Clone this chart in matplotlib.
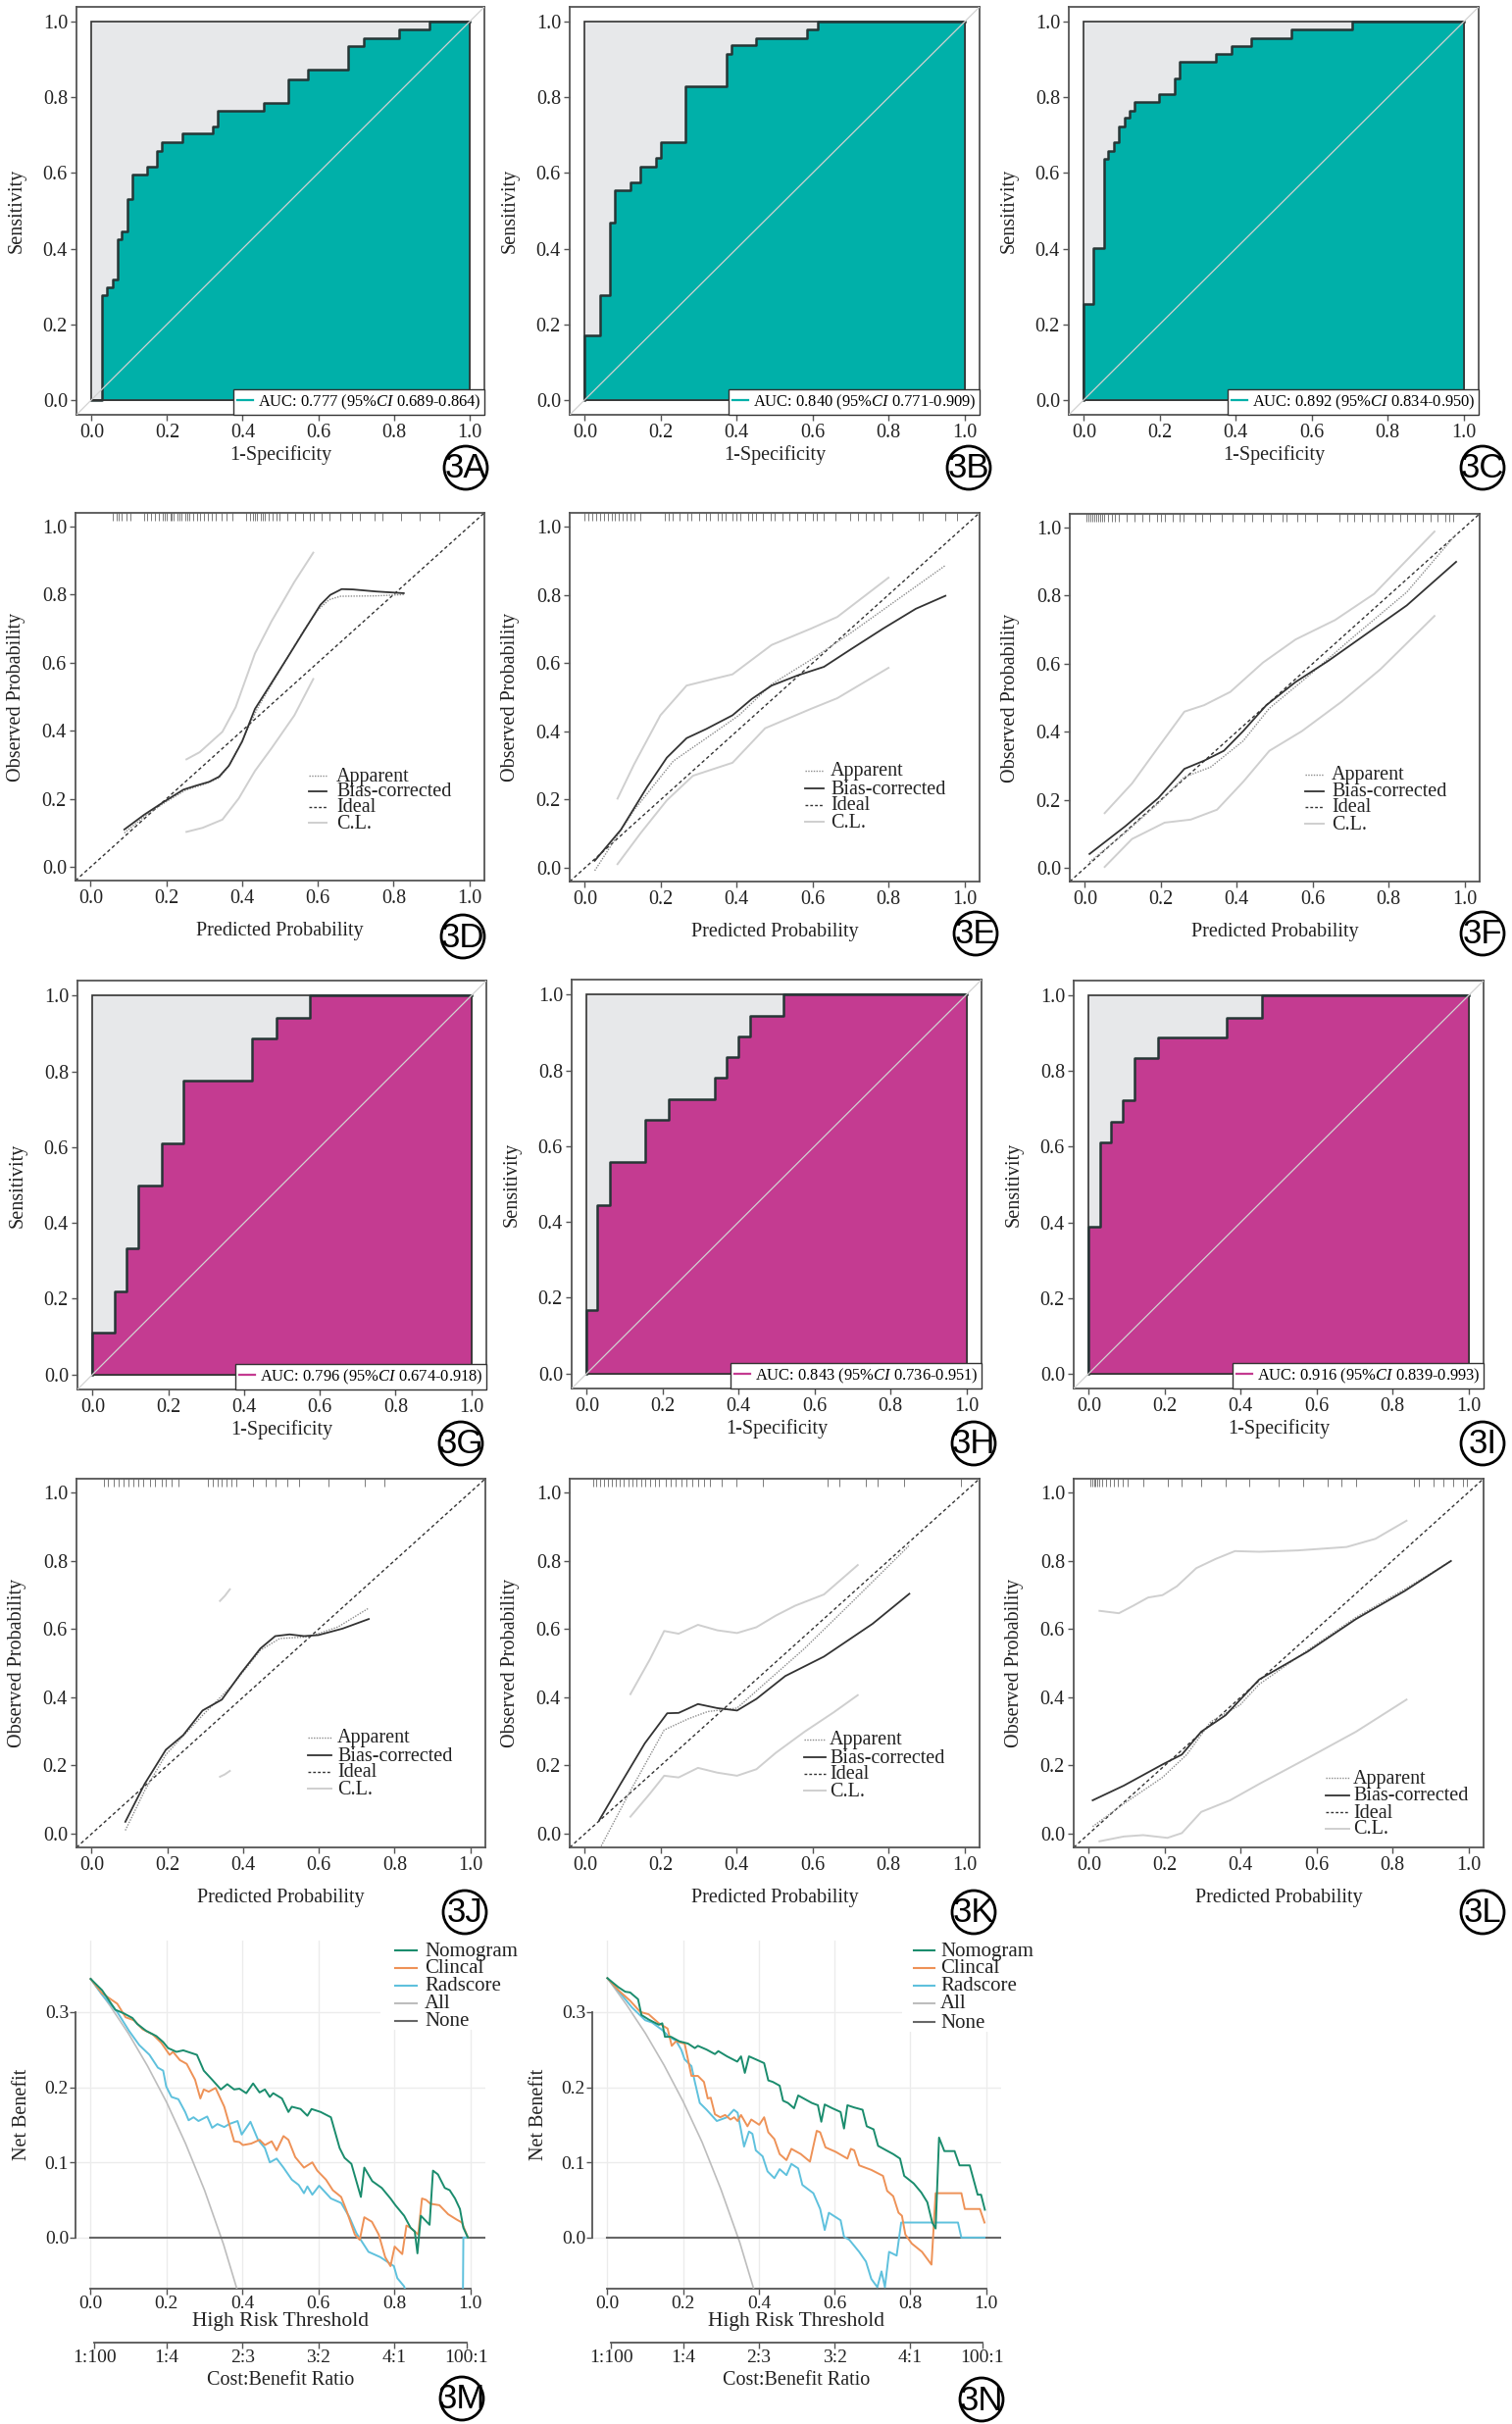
import matplotlib
matplotlib.use("Agg")
import matplotlib.pyplot as plt
from matplotlib.lines import Line2D
from matplotlib.patches import Rectangle, Ellipse

W, H = 1542, 2472
plt.rcParams['font.family'] = ['Liberation Serif', 'DejaVu Serif']
plt.rcParams['mathtext.fontset'] = 'custom'
plt.rcParams['mathtext.rm'] = 'Liberation Serif'
plt.rcParams['mathtext.it'] = 'Liberation Serif:italic'

# ---------------- ROC data (step corners) ----------------
fpr_A = [0.0, 0.028, 0.041, 0.055, 0.068, 0.080, 0.094, 0.107, 0.147, 0.174, 0.186, 0.240, 0.321, 0.333, 0.455, 0.521, 0.573, 0.680, 0.721, 0.814, 0.894, 1.0]
tpr_A = [0.0, 0.276, 0.298, 0.317, 0.424, 0.446, 0.532, 0.596, 0.616, 0.659, 0.681, 0.704, 0.724, 0.765, 0.786, 0.849, 0.874, 0.936, 0.957, 0.979, 1.0, 1.0]
fpr_B = [0.0, 0.0, 0.040, 0.066, 0.079, 0.119, 0.147, 0.187, 0.200, 0.266, 0.373, 0.387, 0.452, 0.585, 0.613, 1.0]
tpr_B = [0.0, 0.170, 0.276, 0.469, 0.554, 0.575, 0.618, 0.639, 0.683, 0.830, 0.916, 0.939, 0.958, 0.979, 1.0, 1.0]
fpr_C = [0.0, 0.0, 0.024, 0.052, 0.064, 0.078, 0.093, 0.107, 0.119, 0.133, 0.198, 0.240, 0.253, 0.348, 0.388, 0.441, 0.547, 0.707, 1.0]
tpr_C = [0.0, 0.254, 0.402, 0.638, 0.659, 0.681, 0.724, 0.746, 0.765, 0.787, 0.808, 0.851, 0.895, 0.916, 0.936, 0.958, 0.979, 1.0, 1.0]
fpr_G = [0.0, 0.0, 0.059, 0.089, 0.120, 0.182, 0.240, 0.422, 0.486, 0.573, 1.0]
tpr_G = [0.0, 0.110, 0.220, 0.332, 0.499, 0.609, 0.777, 0.888, 0.942, 1.0, 1.0]
fpr_H = [0.0, 0.0, 0.028, 0.062, 0.154, 0.215, 0.338, 0.369, 0.400, 0.431, 0.518, 1.0]
tpr_H = [0.0, 0.166, 0.445, 0.557, 0.669, 0.723, 0.780, 0.836, 0.890, 0.944, 1.0, 1.0]
fpr_I = [0.0, 0.0, 0.031, 0.059, 0.090, 0.120, 0.182, 0.363, 0.455, 1.0]
tpr_I = [0.0, 0.388, 0.611, 0.667, 0.722, 0.834, 0.889, 0.942, 1.0, 1.0]

auc_A = ("0.777", "0.689-0.864")
auc_B = ("0.840", "0.771-0.909")
auc_C = ("0.892", "0.834-0.950")
auc_G = ("0.796", "0.674-0.918")
auc_H = ("0.843", "0.736-0.951")
auc_I = ("0.916", "0.839-0.993")

# ---------------- Calibration data ----------------
bc_D_x = [0.089, 0.141, 0.193, 0.245, 0.279, 0.313, 0.339, 0.365, 0.400, 0.434, 0.478, 0.521, 0.564, 0.607, 0.633, 0.663, 0.693, 0.754, 0.827]
bc_D_y = [0.110, 0.153, 0.191, 0.227, 0.239, 0.250, 0.265, 0.297, 0.368, 0.464, 0.541, 0.617, 0.694, 0.770, 0.799, 0.816, 0.815, 0.809, 0.804]
ap_D_x = [0.089, 0.15, 0.2, 0.25, 0.3, 0.34, 0.37, 0.40, 0.44, 0.48, 0.52, 0.56, 0.60, 0.63, 0.66, 0.75, 0.827]
ap_D_y = [0.100, 0.155, 0.192, 0.225, 0.243, 0.262, 0.305, 0.37, 0.465, 0.54, 0.615, 0.69, 0.755, 0.785, 0.795, 0.796, 0.800]
up_D_x = [0.253, 0.288, 0.348, 0.383, 0.434, 0.478, 0.538, 0.588]
up_D_y = [0.316, 0.337, 0.397, 0.469, 0.627, 0.722, 0.837, 0.923]
lo_D_x = [0.253, 0.296, 0.348, 0.391, 0.434, 0.478, 0.538, 0.588]
lo_D_y = [0.103, 0.115, 0.139, 0.201, 0.282, 0.349, 0.445, 0.552]
rug_D = [0.059, 0.068, 0.075, 0.083, 0.095, 0.105, 0.14, 0.15, 0.16, 0.17, 0.18, 0.19, 0.195, 0.20, 0.21, 0.215, 0.22, 0.23, 0.235, 0.24, 0.25, 0.255, 0.26, 0.27, 0.28, 0.29, 0.30, 0.31, 0.32, 0.33, 0.345, 0.36, 0.375, 0.41, 0.42, 0.43, 0.435, 0.44, 0.45, 0.455, 0.46, 0.47, 0.48, 0.49, 0.50, 0.52, 0.54, 0.56, 0.58, 0.59, 0.61, 0.63, 0.66, 0.69, 0.71, 0.75, 0.77, 0.82, 0.87, 0.92]

bc_E_x = [0.026, 0.095, 0.164, 0.216, 0.268, 0.320, 0.389, 0.440, 0.492, 0.561, 0.630, 0.699, 0.786, 0.872, 0.950]
bc_E_y = [0.021, 0.112, 0.237, 0.323, 0.380, 0.407, 0.447, 0.495, 0.534, 0.564, 0.589, 0.639, 0.701, 0.759, 0.797]
ap_E_x = [0.026, 0.130, 0.233, 0.320, 0.406, 0.492, 0.596, 0.699, 0.820, 0.950]
ap_E_y = [-0.008, 0.170, 0.313, 0.380, 0.447, 0.538, 0.610, 0.687, 0.783, 0.886]
up_E_x = [0.086, 0.130, 0.199, 0.268, 0.337, 0.389, 0.492, 0.596, 0.665, 0.800]
up_E_y = [0.203, 0.304, 0.447, 0.534, 0.553, 0.567, 0.653, 0.701, 0.735, 0.850]
lo_E_x = [0.086, 0.147, 0.216, 0.285, 0.389, 0.475, 0.596, 0.665, 0.800]
lo_E_y = [0.011, 0.102, 0.198, 0.270, 0.308, 0.409, 0.466, 0.497, 0.586]
rug_E = [0.0, 0.01, 0.02, 0.03, 0.04, 0.05, 0.06, 0.07, 0.08, 0.09, 0.10, 0.11, 0.12, 0.13, 0.145, 0.21, 0.22, 0.23, 0.25, 0.27, 0.28, 0.30, 0.32, 0.33, 0.35, 0.36, 0.37, 0.39, 0.40, 0.41, 0.43, 0.44, 0.45, 0.47, 0.49, 0.50, 0.52, 0.54, 0.56, 0.58, 0.60, 0.61, 0.63, 0.66, 0.70, 0.72, 0.74, 0.76, 0.78, 0.81, 0.88, 0.89, 0.95, 0.98]

bc_F_x = [0.012, 0.107, 0.193, 0.262, 0.314, 0.366, 0.417, 0.478, 0.555, 0.641, 0.745, 0.848, 0.978]
bc_F_y = [0.041, 0.123, 0.205, 0.291, 0.315, 0.344, 0.402, 0.478, 0.546, 0.608, 0.690, 0.771, 0.899]
ap_F_x = [0.012, 0.107, 0.193, 0.262, 0.331, 0.417, 0.486, 0.590, 0.710, 0.848, 0.978]
ap_F_y = [0.017, 0.104, 0.190, 0.267, 0.296, 0.373, 0.469, 0.565, 0.681, 0.810, 0.980]
up_F_x = [0.052, 0.124, 0.193, 0.262, 0.314, 0.383, 0.469, 0.555, 0.659, 0.762, 0.921]
up_F_y = [0.161, 0.248, 0.354, 0.459, 0.478, 0.517, 0.603, 0.671, 0.728, 0.805, 0.988]
lo_F_x = [0.052, 0.124, 0.210, 0.279, 0.348, 0.417, 0.486, 0.572, 0.676, 0.779, 0.921]
lo_F_y = [0.003, 0.085, 0.133, 0.142, 0.171, 0.253, 0.344, 0.402, 0.488, 0.584, 0.740]
rug_F = [0.005, 0.01, 0.015, 0.02, 0.025, 0.03, 0.035, 0.04, 0.045, 0.05, 0.06, 0.07, 0.08, 0.09, 0.11, 0.13, 0.15, 0.17, 0.19, 0.20, 0.21, 0.23, 0.25, 0.26, 0.29, 0.31, 0.33, 0.36, 0.39, 0.42, 0.44, 0.47, 0.49, 0.52, 0.53, 0.56, 0.58, 0.61, 0.67, 0.69, 0.71, 0.73, 0.75, 0.77, 0.79, 0.81, 0.83, 0.85, 0.87, 0.89, 0.91, 0.93, 0.95, 0.96, 0.97]

bc_J_x = [0.089, 0.140, 0.196, 0.242, 0.293, 0.344, 0.395, 0.446, 0.485, 0.523, 0.561, 0.599, 0.663, 0.732]
bc_J_y = [0.035, 0.146, 0.246, 0.289, 0.361, 0.393, 0.471, 0.543, 0.579, 0.584, 0.579, 0.582, 0.601, 0.629]
ap_J_x = [0.089, 0.140, 0.196, 0.293, 0.370, 0.446, 0.497, 0.574, 0.651, 0.732]
ap_J_y = [0.010, 0.126, 0.232, 0.347, 0.433, 0.538, 0.572, 0.577, 0.606, 0.661]
up_J_x = [0.339, 0.352, 0.365]
up_J_y = [0.682, 0.697, 0.716]
lo_J_x = [0.339, 0.352, 0.365]
lo_J_y = [0.167, 0.174, 0.184]
rug_J = [0.033, 0.043, 0.059, 0.071, 0.084, 0.097, 0.110, 0.122, 0.135, 0.153, 0.166, 0.186, 0.196, 0.212, 0.230, 0.306, 0.319, 0.332, 0.344, 0.357, 0.370, 0.383, 0.426, 0.459, 0.485, 0.518, 0.548, 0.625, 0.722, 0.773]

bc_K_x = [0.038, 0.094, 0.158, 0.217, 0.247, 0.298, 0.349, 0.401, 0.452, 0.528, 0.630, 0.758, 0.855]
bc_K_y = [0.040, 0.146, 0.265, 0.353, 0.354, 0.380, 0.368, 0.361, 0.395, 0.462, 0.519, 0.615, 0.703]
ap_K_x = [0.043, 0.120, 0.209, 0.273, 0.324, 0.401, 0.477, 0.579, 0.707, 0.855]
ap_K_y = [-0.036, 0.126, 0.304, 0.337, 0.358, 0.368, 0.443, 0.543, 0.682, 0.845]
up_K_x = [0.120, 0.171, 0.209, 0.247, 0.298, 0.349, 0.401, 0.452, 0.503, 0.554, 0.630, 0.719]
up_K_y = [0.409, 0.510, 0.594, 0.586, 0.612, 0.596, 0.588, 0.605, 0.639, 0.668, 0.701, 0.787]
lo_K_x = [0.120, 0.171, 0.209, 0.247, 0.298, 0.349, 0.401, 0.452, 0.503, 0.579, 0.656, 0.719]
lo_K_y = [0.050, 0.117, 0.170, 0.165, 0.193, 0.179, 0.170, 0.189, 0.237, 0.299, 0.356, 0.406]
rug_K = [0.023, 0.031, 0.041, 0.051, 0.061, 0.071, 0.082, 0.092, 0.102, 0.115, 0.125, 0.135, 0.148, 0.158, 0.171, 0.184, 0.196, 0.212, 0.227, 0.240, 0.255, 0.268, 0.283, 0.298, 0.314, 0.33, 0.36, 0.40, 0.47, 0.64, 0.67, 0.74, 0.77, 0.84, 0.99]

bc_L_x = [0.010, 0.092, 0.194, 0.245, 0.296, 0.360, 0.449, 0.577, 0.704, 0.832, 0.954]
bc_L_y = [0.098, 0.141, 0.203, 0.232, 0.299, 0.347, 0.452, 0.534, 0.629, 0.711, 0.799]
ap_L_x = [0.010, 0.092, 0.194, 0.258, 0.321, 0.398, 0.449, 0.577, 0.704, 0.832, 0.954]
ap_L_y = [0.021, 0.088, 0.165, 0.232, 0.328, 0.377, 0.438, 0.538, 0.634, 0.716, 0.799]
up_L_x = [0.028, 0.079, 0.117, 0.156, 0.194, 0.232, 0.283, 0.334, 0.385, 0.449, 0.551, 0.679, 0.755, 0.837]
up_L_y = [0.653, 0.646, 0.668, 0.692, 0.699, 0.725, 0.778, 0.805, 0.828, 0.826, 0.830, 0.840, 0.864, 0.917]
lo_L_x = [0.028, 0.092, 0.143, 0.207, 0.245, 0.296, 0.372, 0.449, 0.577, 0.704, 0.837]
lo_L_y = [-0.022, -0.008, -0.004, -0.012, 0.002, 0.064, 0.098, 0.146, 0.222, 0.299, 0.393]
rug_L = [0.003, 0.008, 0.013, 0.018, 0.023, 0.028, 0.036, 0.046, 0.056, 0.066, 0.076, 0.089, 0.102, 0.143, 0.207, 0.245, 0.296, 0.360, 0.423, 0.500, 0.564, 0.628, 0.666, 0.704, 0.857, 0.870, 0.908, 0.934, 0.959, 0.985, 0.997]

cal_legend_labels = ["Apparent", "Bias-corrected", "Ideal", "C.L."]

# ---------------- Decision curve data ----------------
dca_labels = ["Nomogram", "Clincal", "Radscore", "All", "None"]
nom_M_x = [0, 0.030, 0.065, 0.088, 0.110, 0.123, 0.146, 0.173, 0.191, 0.204, 0.226, 0.244, 0.262, 0.280, 0.298, 0.320, 0.343, 0.360, 0.378, 0.392, 0.410, 0.428, 0.445, 0.459, 0.472, 0.481, 0.504, 0.521, 0.530, 0.553, 0.571, 0.582, 0.606, 0.633, 0.656, 0.669, 0.687, 0.712, 0.721, 0.742, 0.767, 0.790, 0.803, 0.826, 0.843, 0.854, 0.861, 0.870, 0.893, 0.902, 0.915, 0.933, 0.946, 0.960, 0.973, 0.982, 0.994]
nom_M_y = [0.344, 0.329, 0.303, 0.298, 0.292, 0.284, 0.275, 0.268, 0.260, 0.252, 0.247, 0.249, 0.246, 0.243, 0.222, 0.210, 0.197, 0.204, 0.197, 0.198, 0.192, 0.205, 0.193, 0.197, 0.187, 0.192, 0.185, 0.167, 0.174, 0.171, 0.162, 0.171, 0.167, 0.160, 0.119, 0.106, 0.098, 0.054, 0.093, 0.075, 0.066, 0.052, 0.043, 0.029, 0.013, 0.008, -0.021, 0.029, 0.017, 0.089, 0.084, 0.066, 0.063, 0.052, 0.038, 0.013, 0.0]
clin_M_x = [0, 0.030, 0.070, 0.092, 0.114, 0.137, 0.164, 0.186, 0.208, 0.217, 0.235, 0.253, 0.275, 0.289, 0.298, 0.311, 0.329, 0.352, 0.378, 0.392, 0.401, 0.423, 0.445, 0.459, 0.477, 0.490, 0.508, 0.521, 0.539, 0.562, 0.584, 0.597, 0.620, 0.638, 0.660, 0.674, 0.696, 0.709, 0.721, 0.741, 0.759, 0.776, 0.790, 0.801, 0.821, 0.832, 0.843, 0.863, 0.873, 0.884, 0.895, 0.919, 0.942, 0.964, 0.978, 0.994]
clin_M_y = [0.344, 0.325, 0.311, 0.293, 0.289, 0.277, 0.270, 0.259, 0.243, 0.247, 0.236, 0.231, 0.210, 0.185, 0.197, 0.194, 0.199, 0.174, 0.128, 0.127, 0.123, 0.125, 0.130, 0.123, 0.128, 0.116, 0.135, 0.130, 0.107, 0.093, 0.100, 0.089, 0.077, 0.063, 0.054, 0.036, 0.004, -0.003, 0.027, 0.021, 0.004, -0.026, -0.038, -0.012, -0.022, 0.016, 0.013, 0.004, 0.052, 0.050, 0.045, 0.043, 0.031, 0.024, 0.020, 0.0]
rad_M_x = [0, 0.030, 0.070, 0.101, 0.128, 0.155, 0.177, 0.191, 0.199, 0.213, 0.231, 0.249, 0.258, 0.271, 0.284, 0.307, 0.320, 0.334, 0.352, 0.365, 0.387, 0.398, 0.421, 0.441, 0.459, 0.472, 0.490, 0.508, 0.530, 0.548, 0.562, 0.571, 0.584, 0.602, 0.633, 0.660, 0.682, 0.700, 0.732, 0.763, 0.799, 0.808, 0.826, 0.860, 0.979, 0.982, 0.994]
rad_M_y = [0.344, 0.323, 0.300, 0.275, 0.256, 0.243, 0.226, 0.222, 0.201, 0.187, 0.184, 0.167, 0.156, 0.160, 0.155, 0.161, 0.146, 0.151, 0.147, 0.151, 0.155, 0.137, 0.154, 0.130, 0.119, 0.100, 0.105, 0.093, 0.077, 0.070, 0.059, 0.068, 0.057, 0.069, 0.052, 0.046, 0.027, 0.006, -0.019, -0.026, -0.038, -0.054, -0.065, -0.12, -0.20, 0.0, 0.0]
all_M_x = [0, 0.05, 0.10, 0.15, 0.20, 0.25, 0.30, 0.35, 0.40]
all_M_y = [0.344, 0.309, 0.271, 0.228, 0.180, 0.125, 0.063, -0.009, -0.093]

nom_N_x = [0, 0.029, 0.047, 0.060, 0.081, 0.090, 0.109, 0.136, 0.145, 0.152, 0.168, 0.190, 0.213, 0.231, 0.239, 0.262, 0.284, 0.293, 0.316, 0.343, 0.353, 0.363, 0.374, 0.392, 0.414, 0.425, 0.437, 0.455, 0.464, 0.477, 0.493, 0.504, 0.522, 0.540, 0.556, 0.565, 0.574, 0.594, 0.616, 0.625, 0.634, 0.652, 0.674, 0.685, 0.703, 0.715, 0.733, 0.755, 0.773, 0.784, 0.809, 0.829, 0.845, 0.858, 0.867, 0.876, 0.890, 0.917, 0.930, 0.957, 0.978, 0.987, 0.997]
nom_N_y = [0.345, 0.333, 0.327, 0.326, 0.317, 0.296, 0.290, 0.283, 0.285, 0.267, 0.267, 0.261, 0.258, 0.252, 0.255, 0.250, 0.244, 0.248, 0.241, 0.234, 0.241, 0.219, 0.241, 0.237, 0.232, 0.209, 0.207, 0.202, 0.182, 0.179, 0.172, 0.189, 0.184, 0.179, 0.176, 0.154, 0.177, 0.172, 0.167, 0.145, 0.176, 0.173, 0.170, 0.148, 0.144, 0.122, 0.117, 0.111, 0.105, 0.082, 0.072, 0.060, 0.047, 0.020, 0.012, 0.133, 0.115, 0.115, 0.096, 0.096, 0.057, 0.057, 0.037]
clin_N_x = [0, 0.029, 0.060, 0.087, 0.109, 0.136, 0.159, 0.170, 0.181, 0.204, 0.222, 0.239, 0.255, 0.265, 0.273, 0.284, 0.298, 0.311, 0.325, 0.335, 0.344, 0.353, 0.370, 0.380, 0.401, 0.414, 0.425, 0.441, 0.455, 0.473, 0.486, 0.511, 0.535, 0.553, 0.562, 0.576, 0.603, 0.634, 0.643, 0.652, 0.665, 0.697, 0.728, 0.739, 0.755, 0.769, 0.778, 0.787, 0.804, 0.831, 0.856, 0.867, 0.935, 0.944, 0.984, 0.996]
clin_N_y = [0.345, 0.329, 0.315, 0.300, 0.297, 0.285, 0.278, 0.255, 0.261, 0.258, 0.215, 0.215, 0.207, 0.185, 0.186, 0.164, 0.160, 0.163, 0.157, 0.160, 0.155, 0.163, 0.148, 0.157, 0.150, 0.160, 0.140, 0.131, 0.111, 0.103, 0.118, 0.111, 0.101, 0.142, 0.140, 0.120, 0.114, 0.105, 0.118, 0.116, 0.096, 0.090, 0.082, 0.062, 0.055, 0.033, 0.029, 0.004, -0.008, -0.019, -0.036, 0.059, 0.059, 0.038, 0.038, 0.020]
rad_N_x = [0, 0.029, 0.065, 0.100, 0.118, 0.145, 0.163, 0.181, 0.195, 0.204, 0.222, 0.231, 0.244, 0.262, 0.289, 0.316, 0.334, 0.344, 0.352, 0.361, 0.374, 0.383, 0.392, 0.410, 0.423, 0.441, 0.455, 0.473, 0.486, 0.504, 0.515, 0.544, 0.562, 0.574, 0.585, 0.616, 0.625, 0.639, 0.665, 0.683, 0.697, 0.713, 0.724, 0.733, 0.744, 0.764, 0.776, 0.926, 0.935, 0.996]
rad_N_y = [0.345, 0.328, 0.306, 0.289, 0.286, 0.276, 0.267, 0.262, 0.250, 0.237, 0.228, 0.207, 0.179, 0.170, 0.155, 0.160, 0.170, 0.166, 0.145, 0.121, 0.141, 0.138, 0.116, 0.108, 0.088, 0.079, 0.091, 0.083, 0.098, 0.092, 0.070, 0.059, 0.038, 0.010, 0.033, 0.023, 0.001, -0.003, -0.019, -0.032, -0.055, -0.066, -0.045, -0.066, -0.019, -0.024, 0.020, 0.020, 0.0, 0.0]
all_N_x = [0, 0.05, 0.10, 0.15, 0.20, 0.25, 0.30, 0.35, 0.40]
all_N_y = [0.345, 0.310, 0.272, 0.229, 0.181, 0.127, 0.064, -0.007, -0.091]

cb_ticks = [0.01, 0.2, 0.4, 0.6, 0.8, 0.99]
cb_labels = ["1:100", "1:4", "2:3", "3:2", "4:1", "100:1"]
prob_ticks = [0.0, 0.2, 0.4, 0.6, 0.8, 1.0]
nb_ticks = [0.0, 0.1, 0.2, 0.3]

# ---------------- styling ----------------
TEAL = '#00b0a9'
MAGENTA = '#c43b91'
GRAYFILL = '#e7e8ea'
FRAME = '#555555'
TXT = '#222222'
C_NOM, C_CLIN, C_RAD, C_ALL, C_NONE = '#1a8c6d', '#ee9257', '#5fc1dd', '#bdbdbd', '#676767'

fig = plt.figure(figsize=(W / 100, H / 100), dpi=100)


def px_ax(x0, y0, x1, y1):
    return fig.add_axes([x0 / W, 1 - y1 / H, (x1 - x0) / W, (y1 - y0) / H])


def fxy(x, y):
    return x / W, 1 - y / H


def box_style(ax):
    ax.set_xlim(-0.04, 1.04)
    ax.set_ylim(-0.04, 1.04)
    ax.set_xticks(prob_ticks)
    ax.set_yticks(prob_ticks)
    ax.set_xticklabels([f"{t:.1f}" for t in prob_ticks])
    ax.set_yticklabels([f"{t:.1f}" for t in prob_ticks])
    for s in ax.spines.values():
        s.set_color(FRAME)
        s.set_linewidth(1.3)
    ax.tick_params(direction='out', length=4.5, width=1, colors=FRAME,
                   labelcolor=TXT, labelsize=14.5, pad=2)


def draw_roc(box, fpr, tpr, color, auc):
    ax = px_ax(*box)
    box_style(ax)
    ax.add_patch(Rectangle((0, 0), 1, 1, facecolor=GRAYFILL, edgecolor='#333333', lw=1.2, zorder=1))
    ax.fill_between(fpr, tpr, 0, step='post', color=color, lw=0, zorder=2)
    ax.plot(fpr, tpr, drawstyle='steps-post', color='#263636', lw=1.8, zorder=4)
    ax.plot([1, 1], [0, 1], color='#333333', lw=1.2, zorder=4)
    ax.plot([0, 1], [0, 0], color='#333333', lw=1.2, zorder=4)
    ax.axline((0, 0), slope=1, color='#d2d2d2', lw=0.9, zorder=5)
    ax.set_xlabel("1-Specificity", fontsize=14.5, color=TXT, labelpad=2)
    ax.set_ylabel("Sensitivity", fontsize=14.5, color=TXT, labelpad=12)
    lab = "AUC: " + auc[0] + " (95%$\\it{CI}$ " + auc[1] + ")"
    leg = ax.legend([Line2D([], [], color=color, lw=1.6)], [lab], loc='lower right',
                    borderaxespad=0, handlelength=1.0, handletextpad=0.3, borderpad=0.2,
                    fancybox=False, edgecolor='#333333', framealpha=1, fontsize=11.9)
    leg.get_frame().set_linewidth(1.0)
    leg.set_zorder(6)
    return ax


def cal_legend(hx0, hx1, tx, ys):
    styles = [dict(color='#8c8c8c', lw=1.0, ls=(0, (1, 1))),
              dict(color='#333333', lw=1.3, ls='-'),
              dict(color='#333333', lw=1.0, ls=(0, (2, 1.5))),
              dict(color='#cfcfcf', lw=1.4, ls='-')]
    for lab, st, y in zip(cal_legend_labels, styles, ys):
        fig.add_artist(Line2D([hx0 / W, hx1 / W], [1 - y / H, 1 - y / H],
                              transform=fig.transFigure, **st))
        fig.text(tx / W, 1 - (y + 1) / H, lab, fontsize=14.5, color=TXT, va='center', ha='left')


def draw_cal(box, ap_x, ap_y, bc_x, bc_y, up_x, up_y, lo_x, lo_y, rug, leg):
    ax = px_ax(*box)
    box_style(ax)
    ax.axline((0, 0), slope=1, color='#333333', lw=1.0, ls=(0, (2.5, 2)), zorder=2)
    ax.plot(up_x, up_y, color='#cfcfcf', lw=1.4, zorder=3)
    ax.plot(lo_x, lo_y, color='#cfcfcf', lw=1.4, zorder=3)
    ax.plot(ap_x, ap_y, color='#8c8c8c', lw=1.0, ls=(0, (1, 1)), zorder=4)
    ax.plot(bc_x, bc_y, color='#333333', lw=1.3, zorder=5)
    ax.vlines(rug, 0.978, 1.0, transform=ax.get_xaxis_transform(), color='#7a7a7a', lw=0.7)
    ax.set_xlabel("Predicted Probability", fontsize=14.5, color=TXT, labelpad=10)
    ax.set_ylabel("Observed Probability", fontsize=14.5, color=TXT, labelpad=12)
    cal_legend(*leg)
    return ax


def draw_dca(box, series, all_x, all_y, cb_y, leg):
    ax = px_ax(*box)
    ax.set_xlim(-0.04, 1.04)
    ax.set_ylim(-0.068, 0.395)
    ax.set_xticks(prob_ticks)
    ax.set_xticklabels([f"{t:.1f}" for t in prob_ticks])
    ax.set_yticks(nb_ticks)
    ax.set_yticklabels([f"{t:.1f}" for t in nb_ticks])
    ax.grid(True, color='#ececec', lw=1.0)
    ax.set_axisbelow(True)
    for s in ['top', 'right']:
        ax.spines[s].set_visible(False)
    ax.spines['left'].set_bounds(0, 0.3)
    ax.spines['bottom'].set_bounds(0, 1)
    for s in ['left', 'bottom']:
        ax.spines[s].set_color(FRAME)
        ax.spines[s].set_linewidth(1.3)
    ax.tick_params(direction='out', length=4, width=1, colors=FRAME, labelcolor=TXT,
                   labelsize=14, pad=1)
    ax.plot(all_x, all_y, color=C_ALL, lw=1.2, zorder=3)
    ax.axhline(0, xmin=0.04 / 1.08, xmax=1.0, color=C_NONE, lw=1.5, zorder=3)
    for (sx, sy), c in zip(series, [C_RAD, C_CLIN, C_NOM]):
        ax.plot(sx, sy, color=c, lw=1.4, zorder=4)
    ax.set_xlabel("High Risk Threshold", fontsize=15.5, color=TXT, labelpad=0)
    ax.set_ylabel("Net Benefit", fontsize=14.5, color=TXT, labelpad=10)

    # cost:benefit axis
    cax = px_ax(box[0], cb_y - 2, box[2], cb_y)
    cax.set_xlim(-0.04, 1.04)
    cax.set_yticks([])
    cax.patch.set_alpha(0)
    for s in ['top', 'left', 'right']:
        cax.spines[s].set_visible(False)
    cax.spines['bottom'].set_bounds(cb_ticks[0], cb_ticks[-1])
    cax.spines['bottom'].set_color(FRAME)
    cax.spines['bottom'].set_linewidth(1.3)
    cax.set_xticks(cb_ticks)
    cax.set_xticklabels(cb_labels)
    cax.tick_params(direction='out', length=4, width=1, colors=FRAME, labelcolor=TXT,
                    labelsize=14, pad=1)
    cax.set_xlabel("Cost:Benefit Ratio", fontsize=14.5, color=TXT, labelpad=4)

    # legend (white box + entries)
    bx0, by0, bx1, by1, hx0, hx1, tx, ys = leg
    fig.add_artist(Rectangle(fxy(bx0, by1), (bx1 - bx0) / W, (by1 - by0) / H,
                             transform=fig.transFigure, fc='white', ec='none', zorder=1))
    for lab, c, y in zip(dca_labels, [C_NOM, C_CLIN, C_RAD, C_ALL, C_NONE], ys):
        fig.add_artist(Line2D([hx0 / W, hx1 / W], [1 - y / H, 1 - y / H],
                              transform=fig.transFigure, color=c, lw=1.5))
        fig.text(tx / W, 1 - (y + 1) / H, lab, fontsize=15, color=TXT, va='center', ha='left')
    return ax


# ---------------- panels ----------------
draw_roc((78, 7, 494, 423), fpr_A, tpr_A, TEAL, auc_A)
draw_roc((581, 7, 999, 423), fpr_B, tpr_B, TEAL, auc_B)
draw_roc((1090, 7, 1508, 423), fpr_C, tpr_C, TEAL, auc_C)

draw_cal((77, 523, 494, 898), ap_D_x, ap_D_y, bc_D_x, bc_D_y, up_D_x, up_D_y, lo_D_x, lo_D_y, rug_D,
         (315, 333, 343, [791, 807, 823, 839]))
draw_cal((581, 523, 999, 899), ap_E_x, ap_E_y, bc_E_x, bc_E_y, up_E_x, up_E_y, lo_E_x, lo_E_y, rug_E,
         (821, 840, 847, [786, 804, 821, 838]))
draw_cal((1091, 524, 1509, 899), ap_F_x, ap_F_y, bc_F_x, bc_F_y, up_F_x, up_F_y, lo_F_x, lo_F_y, rug_F,
         (1331, 1350, 1358, [790, 807, 823, 840]))

draw_roc((79, 1000, 496, 1417), fpr_G, tpr_G, MAGENTA, auc_G)
draw_roc((583, 999, 1001, 1416), fpr_H, tpr_H, MAGENTA, auc_H)
draw_roc((1095, 1000, 1513, 1416), fpr_I, tpr_I, MAGENTA, auc_I)

draw_cal((78, 1508, 495, 1884), ap_J_x, ap_J_y, bc_J_x, bc_J_y, up_J_x, up_J_y, lo_J_x, lo_J_y, rug_J,
         (314, 338, 344, [1772, 1790, 1807, 1824]))
draw_cal((581, 1508, 999, 1884), ap_K_x, ap_K_y, bc_K_x, bc_K_y, up_K_x, up_K_y, lo_K_x, lo_K_y, rug_K,
         (820, 842, 846, [1774, 1792, 1809, 1826]))
draw_cal((1095, 1508, 1513, 1884), ap_L_x, ap_L_y, bc_L_x, bc_L_y, up_L_x, up_L_y, lo_L_x, lo_L_y, rug_L,
         (1352, 1376, 1380, [1813, 1831, 1848, 1865]))

draw_dca((77, 1979, 495, 2334), [(rad_M_x, rad_M_y), (clin_M_x, clin_M_y), (nom_M_x, nom_M_y)],
         all_M_x, all_M_y, 2389,
         (388, 1975, 545, 2070, 403, 425, 433, [1989, 2007, 2025, 2043, 2061]))
draw_dca((604, 1979, 1021, 2334), [(rad_N_x, rad_N_y), (clin_N_x, clin_N_y), (nom_N_x, nom_N_y)],
         all_N_x, all_N_y, 2389,
         (920, 1975, 1075, 2072, 932, 953, 959, [1989, 2007, 2025, 2043, 2062]))

# ---------------- panel tags ----------------
panel_tags = ["3A", "3B", "3C", "3D", "3E", "3F", "3G", "3H", "3I", "3J", "3K", "3L", "3M", "3N"]
tag_pos = [(475, 477), (988, 477), (1512, 477),
           (472, 955), (995, 952), (1512, 952),
           (470, 1472), (993, 1472), (1512, 1472),
           (474, 1950), (993, 1950), (1512, 1950),
           (471, 2446), (1001, 2447)]
R = 22
for tag, (cx, cy) in zip(panel_tags, tag_pos):
    fig.add_artist(Ellipse(fxy(cx, cy), 2 * R / W, 2 * R / H, transform=fig.transFigure,
                           fill=False, lw=2.0, ec='black', zorder=5))
    fig.text(*fxy(cx, cy + 1), tag, ha='center', va='center', fontsize=25, color='black',
             family=['Liberation Sans Narrow', 'Liberation Sans', 'DejaVu Sans'], zorder=6)

fig.savefig("out.png", dpi=100, facecolor='white')
